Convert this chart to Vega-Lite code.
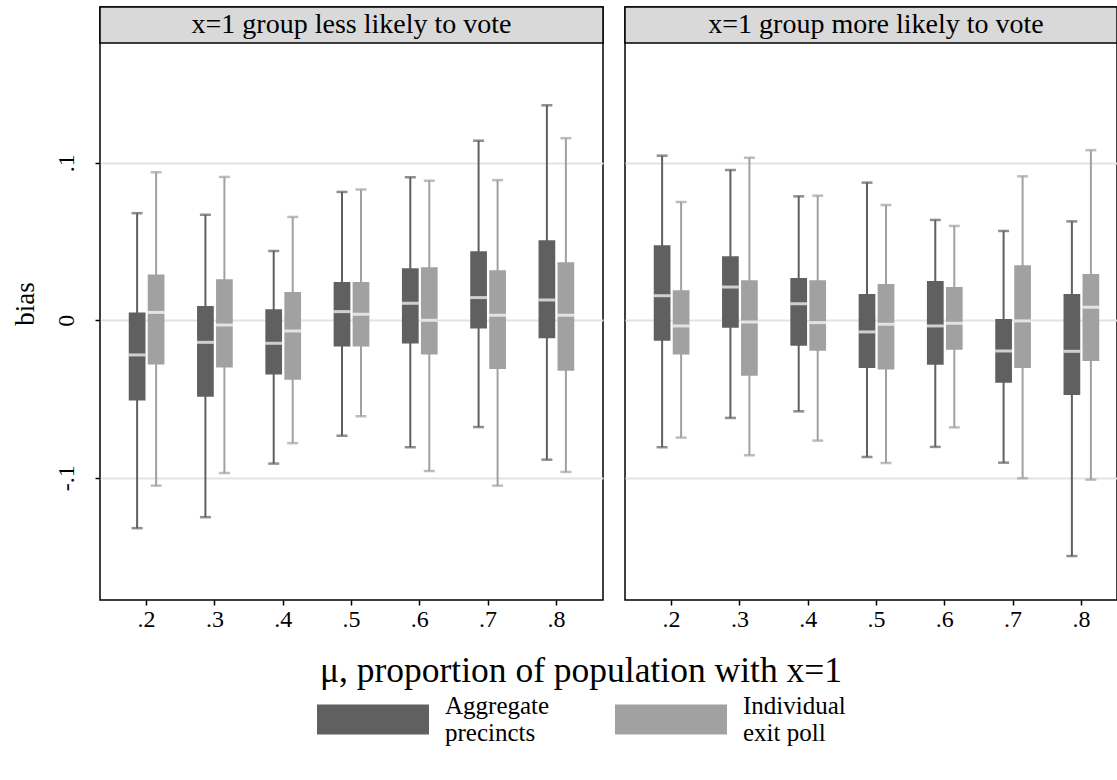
{
  "$schema": "https://vega.github.io/schema/vega-lite/v6.json",
  "autosize": {"type": "pad"},
  "padding": {"left": 10, "top": 5, "right": 0, "bottom": 5},
  "background": "white",
  "datasets": {
    "boxes": [
      {"panel": "less", "mu": ".2", "series": "Aggregate precincts", "lo": -0.132, "q1": -0.051, "med": -0.022, "q3": 0.005, "hi": 0.068},
      {"panel": "less", "mu": ".2", "series": "Individual exit poll", "lo": -0.105, "q1": -0.028, "med": 0.005, "q3": 0.029, "hi": 0.094},
      {"panel": "less", "mu": ".3", "series": "Aggregate precincts", "lo": -0.125, "q1": -0.0485, "med": -0.014, "q3": 0.009, "hi": 0.067},
      {"panel": "less", "mu": ".3", "series": "Individual exit poll", "lo": -0.097, "q1": -0.030, "med": -0.003, "q3": 0.026, "hi": 0.091},
      {"panel": "less", "mu": ".4", "series": "Aggregate precincts", "lo": -0.091, "q1": -0.0345, "med": -0.0146, "q3": 0.007, "hi": 0.044},
      {"panel": "less", "mu": ".4", "series": "Individual exit poll", "lo": -0.078, "q1": -0.0377, "med": -0.0068, "q3": 0.018, "hi": 0.0656},
      {"panel": "less", "mu": ".5", "series": "Aggregate precincts", "lo": -0.0733, "q1": -0.0167, "med": 0.0055, "q3": 0.0243, "hi": 0.0815},
      {"panel": "less", "mu": ".5", "series": "Individual exit poll", "lo": -0.061, "q1": -0.0167, "med": 0.0038, "q3": 0.0243, "hi": 0.083},
      {"panel": "less", "mu": ".6", "series": "Aggregate precincts", "lo": -0.0806, "q1": -0.0148, "med": 0.0108, "q3": 0.033, "hi": 0.0908},
      {"panel": "less", "mu": ".6", "series": "Individual exit poll", "lo": -0.0957, "q1": -0.0218, "med": 0.0, "q3": 0.0336, "hi": 0.0886},
      {"panel": "less", "mu": ".7", "series": "Aggregate precincts", "lo": -0.0678, "q1": -0.0053, "med": 0.0144, "q3": 0.0438, "hi": 0.114},
      {"panel": "less", "mu": ".7", "series": "Individual exit poll", "lo": -0.105, "q1": -0.031, "med": 0.0032, "q3": 0.0317, "hi": 0.089},
      {"panel": "less", "mu": ".8", "series": "Aggregate precincts", "lo": -0.0885, "q1": -0.0114, "med": 0.0129, "q3": 0.0508, "hi": 0.1365},
      {"panel": "less", "mu": ".8", "series": "Individual exit poll", "lo": -0.0963, "q1": -0.032, "med": 0.0032, "q3": 0.0368, "hi": 0.1156},
      {"panel": "more", "mu": ".2", "series": "Aggregate precincts", "lo": -0.0806, "q1": -0.013, "med": 0.0156, "q3": 0.0476, "hi": 0.1045},
      {"panel": "more", "mu": ".2", "series": "Individual exit poll", "lo": -0.0745, "q1": -0.0218, "med": -0.0036, "q3": 0.019, "hi": 0.0751},
      {"panel": "more", "mu": ".3", "series": "Aggregate precincts", "lo": -0.062, "q1": -0.0047, "med": 0.0211, "q3": 0.0406, "hi": 0.0954},
      {"panel": "more", "mu": ".3", "series": "Individual exit poll", "lo": -0.0857, "q1": -0.0352, "med": -0.0011, "q3": 0.0254, "hi": 0.1032},
      {"panel": "more", "mu": ".4", "series": "Aggregate precincts", "lo": -0.0578, "q1": -0.0161, "med": 0.0105, "q3": 0.0269, "hi": 0.0787},
      {"panel": "more", "mu": ".4", "series": "Individual exit poll", "lo": -0.0764, "q1": -0.0193, "med": -0.0015, "q3": 0.0254, "hi": 0.0791},
      {"panel": "more", "mu": ".5", "series": "Aggregate precincts", "lo": -0.0868, "q1": -0.0303, "med": -0.0074, "q3": 0.0167, "hi": 0.0874},
      {"panel": "more", "mu": ".5", "series": "Individual exit poll", "lo": -0.0906, "q1": -0.0313, "med": -0.0025, "q3": 0.023, "hi": 0.0732},
      {"panel": "more", "mu": ".6", "series": "Aggregate precincts", "lo": -0.0804, "q1": -0.0282, "med": -0.0036, "q3": 0.025, "hi": 0.0637},
      {"panel": "more", "mu": ".6", "series": "Individual exit poll", "lo": -0.068, "q1": -0.0187, "med": -0.0019, "q3": 0.0211, "hi": 0.0599},
      {"panel": "more", "mu": ".7", "series": "Aggregate precincts", "lo": -0.0904, "q1": -0.0396, "med": -0.0195, "q3": 0.0008, "hi": 0.0567},
      {"panel": "more", "mu": ".7", "series": "Individual exit poll", "lo": -0.1003, "q1": -0.0303, "med": -0.0004, "q3": 0.0349, "hi": 0.0914},
      {"panel": "more", "mu": ".8", "series": "Aggregate precincts", "lo": -0.1497, "q1": -0.0474, "med": -0.0197, "q3": 0.0167, "hi": 0.0628},
      {"panel": "more", "mu": ".8", "series": "Individual exit poll", "lo": -0.1012, "q1": -0.0258, "med": 0.0083, "q3": 0.0294, "hi": 0.108}
    ]
  },
  "hconcat": [
    {
      "width": 503,
      "height": 593,
      "view": {"stroke": "black", "strokeWidth": 1.5},
      "layer": [
        {
          "data": {"values": [{"label": "x=1 group less likely to vote"}]},
          "mark": {"type": "rect", "fill": "#d9d9d9", "stroke": "black", "strokeWidth": 1.5},
          "encoding": {
            "y": {"datum": 0.1989, "type": "quantitative", "scale": {"domain": [-0.1776, 0.1989], "nice": false, "zero": false}, "axis": {"values": [-0.1, 0, 0.1], "labelExpr": "datum.value > 0.05 ? '.1' : (datum.value < -0.05 ? '-.1' : '0')", "labelAngle": -90, "labelPadding": 17, "tickSize": 5, "grid": true, "domain": false, "title": "bias", "titlePadding": 15}},
            "y2": {"datum": 0.176}
          }
        },
        {
          "data": {"values": [{"label": "x=1 group less likely to vote"}]},
          "mark": {"type": "text", "font": "Liberation Serif", "fontSize": 28, "color": "black", "baseline": "middle", "align": "center"},
          "encoding": {
            "y": {"datum": 0.1875, "type": "quantitative", "axis": {"values": [-0.1, 0, 0.1], "labelExpr": "datum.value > 0.05 ? '.1' : (datum.value < -0.05 ? '-.1' : '0')", "labelAngle": -90, "labelPadding": 17, "tickSize": 5, "grid": true, "domain": false, "title": "bias", "titlePadding": 15}},
            "text": {"field": "label"}
          }
        },
        {
          "data": {"name": "boxes"},
          "transform": [{"filter": "datum.panel == 'less'"}],
          "layer": [
            {
              "mark": {"type": "rule", "strokeWidth": 2},
              "encoding": {
                "x": {"field": "mu", "type": "nominal", "sort": [".2", ".3", ".4", ".5", ".6", ".7", ".8"], "scale": {"type": "band", "paddingInner": 0.477, "paddingOuter": 0.421}, "axis": {"title": null, "labelAngle": 0, "tickSize": 5, "domain": false, "labelPadding": 2}},
                "xOffset": {"field": "series", "type": "nominal", "scale": {"paddingInner": 0.12, "paddingOuter": 0}},
                "y": {"field": "lo", "type": "quantitative", "axis": {"values": [-0.1, 0, 0.1], "labelExpr": "datum.value > 0.05 ? '.1' : (datum.value < -0.05 ? '-.1' : '0')", "labelAngle": -90, "labelPadding": 17, "tickSize": 5, "grid": true, "domain": false, "title": "bias", "titlePadding": 15}},
                "y2": {"field": "hi"},
                "color": {"field": "series", "type": "nominal", "scale": {"domain": ["Aggregate precincts", "Individual exit poll"], "range": ["#606060", "#a1a1a1"]}}
              }
            },
            {
              "mark": {"type": "tick", "orient": "horizontal", "size": 11, "thickness": 2.5},
              "encoding": {
                "x": {"field": "mu", "type": "nominal", "sort": [".2", ".3", ".4", ".5", ".6", ".7", ".8"]},
                "xOffset": {"field": "series", "type": "nominal"},
                "y": {"field": "lo", "type": "quantitative", "title": "bias"},
                "color": {"field": "series", "type": "nominal"}
              }
            },
            {
              "mark": {"type": "tick", "orient": "horizontal", "size": 11, "thickness": 2.5},
              "encoding": {
                "x": {"field": "mu", "type": "nominal", "sort": [".2", ".3", ".4", ".5", ".6", ".7", ".8"]},
                "xOffset": {"field": "series", "type": "nominal"},
                "y": {"field": "hi", "type": "quantitative", "title": "bias"},
                "color": {"field": "series", "type": "nominal"}
              }
            },
            {
              "mark": {"type": "bar"},
              "encoding": {
                "x": {"field": "mu", "type": "nominal", "sort": [".2", ".3", ".4", ".5", ".6", ".7", ".8"]},
                "xOffset": {"field": "series", "type": "nominal"},
                "y": {"field": "q3", "type": "quantitative", "title": "bias"},
                "y2": {"field": "q1"},
                "color": {"field": "series", "type": "nominal", "legend": {"title": "μ, proportion of population with x=1", "orient": "none", "legendX": 217, "legendY": 647, "labelExpr": "datum.label == 'Aggregate precincts' ? ['Aggregate', 'precincts'] : ['Individual', 'exit poll']"}}
              }
            },
            {
              "mark": {"type": "tick", "orient": "horizontal", "size": 17, "thickness": 3, "color": "white"},
              "encoding": {
                "x": {"field": "mu", "type": "nominal", "sort": [".2", ".3", ".4", ".5", ".6", ".7", ".8"]},
                "xOffset": {"field": "series", "type": "nominal"},
                "y": {"field": "med", "type": "quantitative", "title": "bias"}
              }
            }
          ]
        }
      ]
    },
    {
      "width": 492,
      "height": 593,
      "view": {"stroke": "black", "strokeWidth": 1.5},
      "layer": [
        {
          "data": {"values": [{"label": "x=1 group more likely to vote"}]},
          "mark": {"type": "rect", "fill": "#d9d9d9", "stroke": "black", "strokeWidth": 1.5},
          "encoding": {
            "y": {"datum": 0.1989, "type": "quantitative", "scale": {"domain": [-0.1776, 0.1989], "nice": false, "zero": false}, "axis": {"values": [-0.1, 0, 0.1], "labels": false, "ticks": false, "grid": true, "domain": false, "title": null}},
            "y2": {"datum": 0.176}
          }
        },
        {
          "data": {"values": [{"label": "x=1 group more likely to vote"}]},
          "mark": {"type": "text", "font": "Liberation Serif", "fontSize": 28, "color": "black", "baseline": "middle", "align": "center", "dx": 5},
          "encoding": {
            "y": {"datum": 0.1875, "type": "quantitative", "axis": {"values": [-0.1, 0, 0.1], "labels": false, "ticks": false, "grid": true, "domain": false, "title": null}},
            "text": {"field": "label"}
          }
        },
        {
          "data": {"name": "boxes"},
          "transform": [{"filter": "datum.panel == 'more'"}],
          "layer": [
            {
              "mark": {"type": "rule", "strokeWidth": 2},
              "encoding": {
                "x": {"field": "mu", "type": "nominal", "sort": [".2", ".3", ".4", ".5", ".6", ".7", ".8"], "scale": {"type": "band", "paddingInner": 0.477, "paddingOuter": 0.421, "range": [0, 503]}, "axis": {"title": null, "labelAngle": 0, "tickSize": 5, "domain": false, "labelPadding": 2}},
                "xOffset": {"field": "series", "type": "nominal", "scale": {"paddingInner": 0.12, "paddingOuter": 0}},
                "y": {"field": "lo", "type": "quantitative", "axis": {"values": [-0.1, 0, 0.1], "labels": false, "ticks": false, "grid": true, "domain": false, "title": null}},
                "y2": {"field": "hi"},
                "color": {"field": "series", "type": "nominal", "scale": {"domain": ["Aggregate precincts", "Individual exit poll"], "range": ["#606060", "#a1a1a1"]}}
              }
            },
            {
              "mark": {"type": "tick", "orient": "horizontal", "size": 11, "thickness": 2.5},
              "encoding": {
                "x": {"field": "mu", "type": "nominal", "sort": [".2", ".3", ".4", ".5", ".6", ".7", ".8"]},
                "xOffset": {"field": "series", "type": "nominal"},
                "y": {"field": "lo", "type": "quantitative", "title": null},
                "color": {"field": "series", "type": "nominal"}
              }
            },
            {
              "mark": {"type": "tick", "orient": "horizontal", "size": 11, "thickness": 2.5},
              "encoding": {
                "x": {"field": "mu", "type": "nominal", "sort": [".2", ".3", ".4", ".5", ".6", ".7", ".8"]},
                "xOffset": {"field": "series", "type": "nominal"},
                "y": {"field": "hi", "type": "quantitative", "title": null},
                "color": {"field": "series", "type": "nominal"}
              }
            },
            {
              "mark": {"type": "bar"},
              "encoding": {
                "x": {"field": "mu", "type": "nominal", "sort": [".2", ".3", ".4", ".5", ".6", ".7", ".8"]},
                "xOffset": {"field": "series", "type": "nominal"},
                "y": {"field": "q3", "type": "quantitative", "title": null},
                "y2": {"field": "q1"},
                "color": {"field": "series", "type": "nominal"}
              }
            },
            {
              "mark": {"type": "tick", "orient": "horizontal", "size": 17, "thickness": 3, "color": "white"},
              "encoding": {
                "x": {"field": "mu", "type": "nominal", "sort": [".2", ".3", ".4", ".5", ".6", ".7", ".8"]},
                "xOffset": {"field": "series", "type": "nominal"},
                "y": {"field": "med", "type": "quantitative", "title": null}
              }
            }
          ]
        }
      ]
    }
  ],
  "spacing": 18,
  "resolve": {"scale": {"color": "shared"}, "legend": {"color": "shared"}},
  "config": {
    "font": "Liberation Serif",
    "axis": {
      "labelFont": "Liberation Serif",
      "labelFontSize": 24,
      "labelColor": "black",
      "titleFont": "Liberation Serif",
      "titleFontSize": 27,
      "titleFontWeight": "normal",
      "titleColor": "black",
      "gridColor": "#e3e3e3",
      "gridWidth": 2,
      "tickColor": "black",
      "tickWidth": 1.5
    },
    "legend": {
      "direction": "horizontal",
      "titleOrient": "top",
      "titleAnchor": "middle",
      "titleFont": "Liberation Serif",
      "titleFontSize": 35.5,
      "titleFontWeight": "normal",
      "titleColor": "black",
      "titlePadding": -26,
      "titleLimit": 0,
      "labelFont": "Liberation Serif",
      "labelFontSize": 25,
      "labelColor": "black",
      "labelLimit": 0,
      "labelOffset": 16,
      "labelBaseline": "line-bottom",
      "symbolType": "M-1,-0.268H1V0.268H-1Z",
      "symbolSize": 12544,
      "symbolStrokeWidth": 0,
      "symbolOpacity": 1,
      "columnPadding": 65
    }
  }
}
